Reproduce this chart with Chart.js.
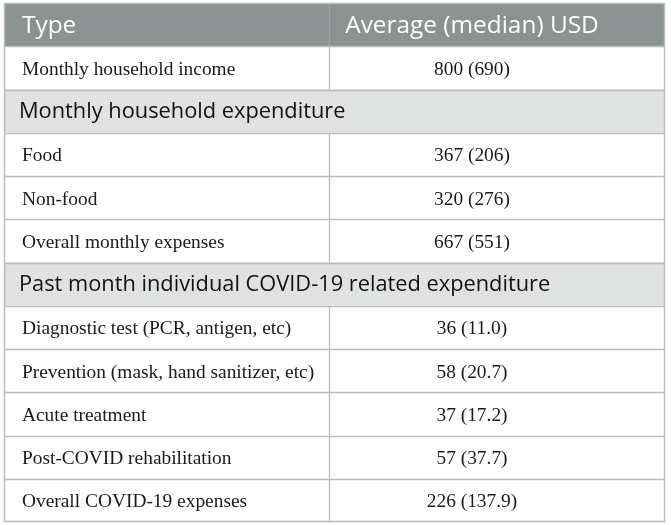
<!DOCTYPE html>
<html>
<head>
<meta charset="utf-8">
<script src="https://cdn.jsdelivr.net/npm/chart.js@4"></script>
<style>
html,body{margin:0;padding:0;background:#fff;}
#wrap{width:671px;height:525px;}
</style>
</head>
<body>
<div id="wrap"><canvas id="c" width="671" height="525"></canvas></div>
<script>
// ---- data ----
const headers = ['Type', 'Average (median) USD'];
const rowLabels = [
  'Monthly household income',
  'Monthly household expenditure',
  'Food',
  'Non-food',
  'Overall monthly expenses',
  'Past month individual COVID-19 related expenditure',
  'Diagnostic test (PCR, antigen, etc)',
  'Prevention (mask, hand sanitizer, etc)',
  'Acute treatment',
  'Post-COVID rehabilitation',
  'Overall COVID-19 expenses'
];
const rowKinds = ['row','section','row','row','row','section','row','row','row','row','row'];
const averages = [800, null, 367, 320, 667, null, 36, 58, 37, 57, 226];
const medians  = [690, null, 206, 276, 551, null, 11.0, 20.7, 17.2, 37.7, 137.9];
const medianDecimals = [0, null, 0, 0, 0, null, 1, 1, 1, 1, 1];

// ---- styling ----
const HEADER_BG = '#8c9192';
const SECTION_BG = '#e0e2e2';
const ROW_BG = '#ffffff';
const LINE = '#b9bcbc';
const DIVIDER_X = 0.4917;   // column divider, in x-scale units
const VALUE_X = 0.708;      // centre of value column, in x-scale units
const TEXT_PAD = 18;

const categories = ['__header__', ...rowLabels];
const kinds = ['header', ...rowKinds];
const bgColors = kinds.map(k => k === 'header' ? HEADER_BG : (k === 'section' ? SECTION_BG : ROW_BG));

function valueText(i) {
  if (averages[i] === null) return '';
  return averages[i] + ' (' + medians[i].toFixed(medianDecimals[i]) + ')';
}

const tablePlugin = {
  id: 'tablePlugin',
  afterDatasetsDraw(chart) {
    const ctx = chart.ctx;
    const x = chart.scales.x, y = chart.scales.y;
    const ca = chart.chartArea;
    const n = categories.length;
    const half = (y.getPixelForValue(1) - y.getPixelForValue(0)) / 2;
    const xDiv = Math.round(x.getPixelForValue(DIVIDER_X)) + 0.5;
    const xVal = x.getPixelForValue(VALUE_X);
    ctx.save();
    // vertical divider (not through section rows)
    for (let i = 0; i < n; i++) {
      if (kinds[i] === 'section') continue;
      const yc = y.getPixelForValue(i);
      ctx.strokeStyle = kinds[i] === 'header' ? '#a3a7a8' : LINE;
      ctx.lineWidth = 1.3;
      ctx.beginPath();
      ctx.moveTo(xDiv, yc - half);
      ctx.lineTo(xDiv, yc + half);
      ctx.stroke();
    }
    // horizontal row lines
    ctx.strokeStyle = LINE;
    ctx.lineWidth = 1.5;
    for (let i = 1; i < n; i++) {
      const yb = Math.round(y.getPixelForValue(i) - half) + 0.5;
      ctx.beginPath();
      ctx.moveTo(ca.left, yb);
      ctx.lineTo(ca.right, yb);
      ctx.stroke();
    }
    // outer border
    ctx.strokeStyle = LINE;
    ctx.lineWidth = 1.5;
    ctx.strokeRect(ca.left + 0.5, ca.top + 0.5, ca.right - ca.left - 1, ca.bottom - ca.top - 1);

    // text
    ctx.textBaseline = 'middle';
    for (let i = 0; i < n; i++) {
      const yc = y.getPixelForValue(i);
      const k = kinds[i];
      if (k === 'header') {
        ctx.fillStyle = '#ffffff';
        ctx.font = '24.4px "Open Sans", sans-serif';
        ctx.textAlign = 'left';
        ctx.fillText(headers[0], ca.left + TEXT_PAD, yc + 1);
        ctx.textAlign = 'center';
        ctx.fillText(headers[1], xVal, yc + 1);
      } else if (k === 'section') {
        ctx.fillStyle = '#111111';
        ctx.font = '21.8px "Open Sans", sans-serif';
        ctx.textAlign = 'left';
        ctx.fillText(categories[i], ca.left + 15, yc + 1);
      } else {
        ctx.fillStyle = '#1a1a1a';
        ctx.font = '19.4px "Liberation Serif", serif';
        ctx.textAlign = 'left';
        ctx.fillText(categories[i], ca.left + TEXT_PAD, yc + 2);
        ctx.textAlign = 'center';
        ctx.fillText(valueText(i - 1), xVal, yc + 2);
      }
    }
    ctx.restore();
  }
};

new Chart(document.getElementById('c'), {
  type: 'bar',
  data: {
    labels: categories,
    datasets: [{
      label: 'cells',
      data: categories.map(() => [0, 1]),
      backgroundColor: bgColors,
      borderWidth: 0,
      barPercentage: 1,
      categoryPercentage: 1
    }]
  },
  options: {
    indexAxis: 'y',
    responsive: false,
    animation: false,
    events: [],
    layout: { padding: { left: 4, right: 6, top: 3, bottom: 3 } },
    plugins: { legend: { display: false }, tooltip: { enabled: false }, title: { display: false } },
    scales: {
      x: { type: 'linear', min: 0, max: 1, display: false },
      y: { type: 'category', display: false, offset: true }
    }
  },
  plugins: [tablePlugin]
});
</script>
</body>
</html>
